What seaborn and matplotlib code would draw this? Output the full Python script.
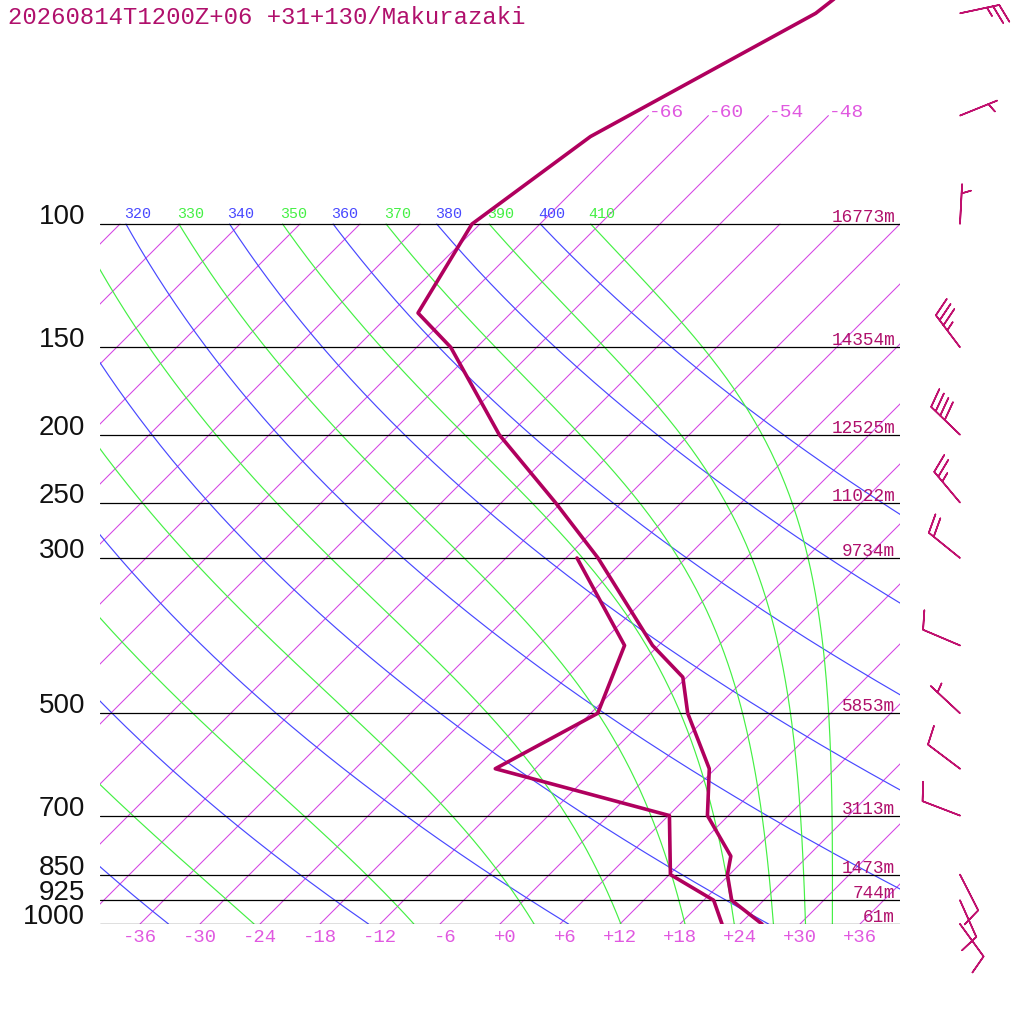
import numpy as np
import pandas as pd
import matplotlib
matplotlib.use("Agg")
import matplotlib.pyplot as plt
import matplotlib.transforms as mtransforms
import seaborn as sns

# ---------------- data ----------------
TITLE = "20260814T1200Z+06 +31+130/Makurazaki"

# temperature profile (hPa, degC)
t_pres = [1000, 925, 850, 800, 700, 600, 500, 444, 400, 300, 250, 200, 150, 134, 100, 75, 50, 45]
t_temp = [26.2, 20.8, 17.8, 16.3, 9.9, 5.4, -2.3, -6.4, -12.6, -26.8, -36.6, -49.0, -62.6, -69.3, -72.8, -69.7, -59.5, -58.6]

# dewpoint profile (hPa, degC)
td_pres = [1000, 925, 850, 700, 600, 500, 400, 300]
td_temp = [22.2, 19.0, 12.1, 6.1, -16.0, -11.3, -15.4, -28.9]

# standard levels and their heights
lvl_pres = [1000, 925, 850, 700, 500, 300, 250, 200, 150, 100]
lvl_hgt = ["61m", "744m", "1473m", "3113m", "5853m", "9734m", "11022m", "12525m", "14354m", "16773m"]

# winds (direction from, degrees; speed, kt)
wind_pres = [1000, 925, 850, 700, 600, 500, 400, 300, 250, 200, 150, 100, 70, 50]
wind_dir = [144, 156, 153, 291, 307, 313, 293, 309, 320, 314, 323, 3, 68, 78]
wind_spd = [10, 10, 10, 10, 10, 5, 10, 20, 25, 40, 35, 5, 5, 25]

# axis / reference line labels
temp_ticks = [-36, -30, -24, -18, -12, -6, 0, 6, 12, 18, 24, 30, 36]
iso_labelled = [-66, -60, -54, -48]
theta_dry = [220, 240, 260, 280, 300, 320, 340, 360, 380, 400]
theta_dry_labels = [320, 340, 360, 380, 400]
theta_moist = [250, 270, 290, 310, 330, 350, 370, 390, 410]
theta_moist_labels = [310, 330, 350, 370, 390, 410]

# ---------------- style ----------------
sns.set_theme(style="white")
plt.rcParams["font.family"] = ["Liberation Mono", "DejaVu Sans Mono"]

C_PROF = "#b0005e"
C_TXT = "#b0106c"
C_ISO = "#d444e4"
C_ISO_TXT = "#e058e0"
C_BLUE = "#4848ff"
C_GREEN = "#44f044"

K = 30.4            # skew (degC per ln-pressure unit)
PTOP = 1000 * np.exp(-924 / 304)


def skx(t, p):
    return np.asarray(t, float) + K * np.log(1000.0 / np.asarray(p, float))


def theta_e_sat(tk, p):
    tc = tk - 273.15
    es = 6.112 * np.exp(17.67 * tc / (tc + 243.5))
    r = 1000 * 0.622 * es / (p - es)
    return tk * (1000 / p) ** (0.2854 * (1 - 0.00028 * r)) * np.exp((3.376 / tk - 0.00254) * r * (1 + 0.00081 * r))


def moist_T(the, p):
    lo = np.full_like(p, 150.0)
    hi = np.full_like(p, 340.0)
    for _ in range(60):
        mid = 0.5 * (lo + hi)
        f = theta_e_sat(mid, p) > the
        hi = np.where(f, mid, hi)
        lo = np.where(f, lo, mid)
    return 0.5 * (lo + hi) - 273.15


fig = plt.figure(figsize=(10.24, 10.24), dpi=100)
ax = fig.add_axes([100 / 1024, 100 / 1024, 800 / 1024, 924 / 1024])
ax.set_yscale("log")
ax.set_ylim(1000, PTOP)
ax.set_xlim(-40, 40)
ax.axis("off")

pp = np.geomspace(1000, 100, 200)

# isotherms
for t in range(-120, 48, 6):
    ptop = 70 if t in iso_labelled else 100
    ax.plot(skx([t, t], [1000, ptop]), [1000, ptop], color=C_ISO, lw=0.75, zorder=2)
for t in iso_labelled:
    ax.text(skx(t, 70), 70, f"{t:d}", color=C_ISO_TXT, fontsize=14, ha="left", va="baseline",
            transform=mtransforms.offset_copy(ax.transData, fig, x=0, y=-1, units="dots"), zorder=5)

lab_tr = mtransforms.offset_copy(ax.transData, fig, x=-2, y=6, units="dots")
# dry adiabats
for th in theta_dry:
    tt = th * (pp / 1000) ** 0.2857 - 273.15
    ax.plot(skx(tt, pp), pp, color=C_BLUE, lw=0.85, zorder=3)
    if th in theta_dry_labels:
        ax.text(skx(tt[-1], 100), 100, str(th), color=C_BLUE, fontsize=10.8, ha="left", va="baseline",
                transform=lab_tr, clip_on=True, zorder=5)
# moist adiabats
for th in theta_moist:
    tt = moist_T(th, pp)
    ax.plot(skx(tt, pp), pp, color=C_GREEN, lw=0.85, zorder=3)
    if th in theta_moist_labels:
        ax.text(skx(tt[-1], 100), 100, str(th), color=C_GREEN, fontsize=10.8, ha="left", va="baseline",
                transform=lab_tr, clip_on=True, zorder=5)

# pressure levels
ptr = mtransforms.blended_transform_factory(fig.transFigure, ax.transData)
htr = mtransforms.offset_copy(ax.transData, fig, x=0, y=2, units="dots")
for p, h in zip(lvl_pres, lvl_hgt):
    ax.plot([-40, 40], [p, p], color="black", lw=0.9, zorder=4)
    ax.text(85 / 1024, p, str(p), transform=ptr, ha="right", va="baseline", fontsize=20,
            family="Liberation Sans", color="#111111", clip_on=False)
    ax.text(39.5, p, h, transform=htr, ha="right", va="baseline", fontsize=12.8, color=C_TXT, zorder=6)

# bottom temperature labels
btr = mtransforms.blended_transform_factory(ax.transData, ax.transAxes)
for t in temp_ticks:
    ax.text(t + 1.7, -13 / 924, f"{t:+d}", transform=btr, ha="right", va="center", fontsize=13.6,
            color=C_ISO_TXT, clip_on=False)

# profiles
df_t = pd.DataFrame({"x": skx(t_temp, t_pres), "p": t_pres})
df_td = pd.DataFrame({"x": skx(td_temp, td_pres), "p": td_pres})
sns.lineplot(data=df_t, x="x", y="p", sort=False, estimator=None, color=C_PROF, lw=2.6, ax=ax, zorder=8)
sns.lineplot(data=df_td, x="x", y="p", sort=False, estimator=None, color=C_PROF, lw=2.6, ax=ax, zorder=8)
ax.set_yscale("log")
ax.set_ylim(1000, PTOP)
ax.set_xlim(-40, 40)
ax.axis("off")

# title
fig.text(8 / 1024, 1 - 24 / 1024, TITLE, color=C_TXT, fontsize=17.2, ha="left", va="baseline")

# wind barbs
axb = fig.add_axes([900 / 1024, 100 / 1024, 124 / 1024, 924 / 1024])
axb.set_yscale("log")
axb.set_ylim(1000, PTOP)
axb.set_xlim(0, 124)
axb.axis("off")
d = np.deg2rad(wind_dir)
s = np.asarray(wind_spd, float)
u = -s * np.sin(d)
v = -s * np.cos(d)
axb.barbs(np.full(len(wind_pres), 60.0), wind_pres, u, v, length=7.6,
          sizes=dict(height=0.46, width=0.32, spacing=0.157),
          color="#c0106e", linewidth=1.15, clip_on=False)

fig.savefig("out.png", dpi=100)
